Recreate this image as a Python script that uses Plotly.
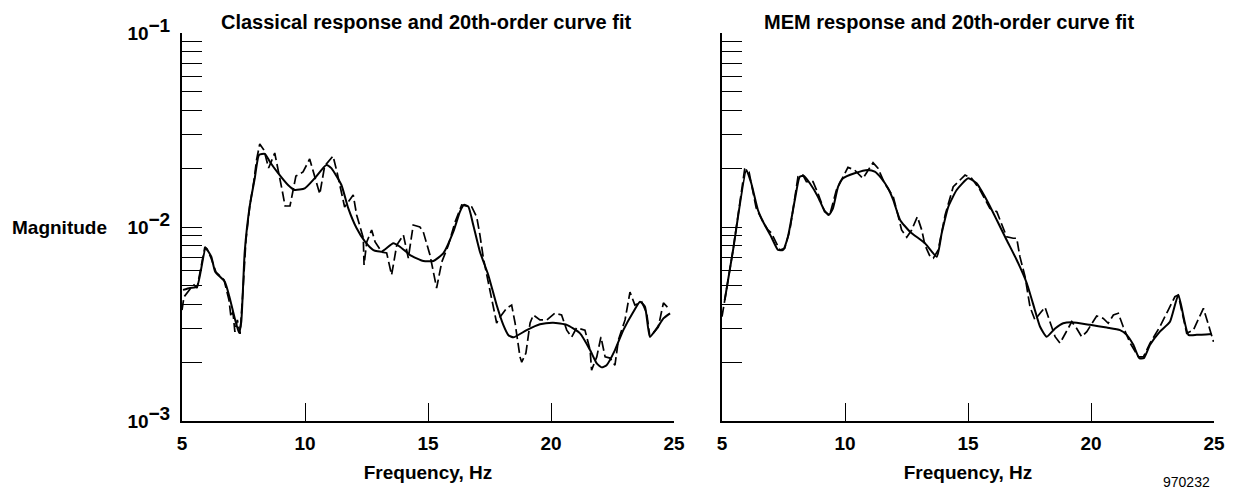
import plotly.graph_objects as go

# ---- Classical response (dashed) and its 20th-order fit (solid) ----
classical_freq = [5.00, 5.08, 5.33, 5.49, 5.61, 5.93, 6.02, 6.18, 6.38, 6.71, 6.91, 6.99, 7.07,
                  7.15, 7.25, 7.36, 7.48, 7.60, 7.76, 7.93, 8.03, 8.16, 8.33, 8.52, 8.77, 8.90,
                  9.07, 9.19, 9.39, 9.63, 9.92, 10.19, 10.37, 10.60, 10.80, 11.14, 11.30, 11.61,
                  11.96, 12.10, 12.37, 12.40, 12.51, 12.71, 12.85, 13.12, 13.32, 13.52, 13.73,
                  14.00, 14.20, 14.40, 14.67, 14.81, 15.08, 15.35, 15.56, 15.83, 16.10, 16.37,
                  16.78, 16.98, 17.11, 17.25, 17.39, 17.59, 17.79, 17.93, 18.20, 18.40, 18.54,
                  18.74, 18.81, 18.98, 19.15, 19.28, 19.55, 19.83, 20.16, 20.43, 20.64, 20.84,
                  21.04, 21.38, 21.59, 21.65, 21.86, 22.03, 22.20, 22.40, 22.60, 22.74, 23.01,
                  23.21, 23.41, 23.69, 23.89, 24.02, 24.36, 24.57, 24.77]
classical_mag = [0.00373, 0.00436, 0.00479, 0.00502, 0.00485, 0.00789, 0.00770, 0.00692, 0.00586,
                 0.00533, 0.00420, 0.00344, 0.00365, 0.00288, 0.00332, 0.00281, 0.00474, 0.00857,
                 0.01299, 0.01747, 0.02215, 0.02679, 0.02494, 0.02014, 0.02406, 0.02014, 0.01551,
                 0.01283, 0.01283, 0.01832, 0.01921, 0.02241, 0.01853, 0.01479, 0.02062, 0.02323,
                 0.01921, 0.01268, 0.01462, 0.01153, 0.00878, 0.00637, 0.00837, 0.00965, 0.00837,
                 0.00743, 0.00735, 0.00566, 0.00807, 0.00910, 0.00692, 0.01024, 0.01000, 0.00942,
                 0.00717, 0.00485, 0.00660, 0.00807, 0.01061, 0.01299, 0.01268, 0.01126, 0.00910,
                 0.00692, 0.00566, 0.00431, 0.00320, 0.00344, 0.00382, 0.00396, 0.00320, 0.00214,
                 0.00201, 0.00224, 0.00320, 0.00352, 0.00332, 0.00332, 0.00360, 0.00352, 0.00294,
                 0.00271, 0.00302, 0.00294, 0.00232, 0.00183, 0.00214, 0.00271, 0.00214, 0.00211,
                 0.00194, 0.00262, 0.00332, 0.00462, 0.00396, 0.00411, 0.00360, 0.00271, 0.00305,
                 0.00406, 0.00382]

classical_fit_freq = [5.04, 5.33, 5.61, 5.96, 6.19, 6.35, 6.74, 6.94, 7.14, 7.32, 7.41, 7.55, 7.75,
                      7.96, 8.13, 8.37, 8.57, 8.90, 9.31, 9.58, 9.99, 10.39, 10.87, 11.07, 11.48,
                      11.76, 12.10, 12.44, 12.78, 13.12, 13.59, 13.86, 14.27, 14.81, 15.22, 15.62,
                      16.03, 16.30, 16.46, 16.64, 16.84, 17.11, 17.45, 17.79, 18.06, 18.27, 18.47,
                      19.01, 19.55, 20.09, 20.64, 21.18, 21.59, 21.86, 22.06, 22.26, 22.60, 22.94,
                      23.35, 23.62, 23.82, 24.02, 24.30, 24.57, 24.84]
classical_fit_mag = [0.00474, 0.00485, 0.00492, 0.00777, 0.00703, 0.00588, 0.00522, 0.00431,
                     0.00340, 0.00284, 0.00325, 0.00746, 0.01273, 0.01790, 0.02350, 0.02380,
                     0.02170, 0.01900, 0.01646, 0.01552, 0.01583, 0.01782, 0.02090, 0.02010,
                     0.01646, 0.01248, 0.00985, 0.00840, 0.00760, 0.00746, 0.00824, 0.00791,
                     0.00717, 0.00668, 0.00668, 0.00731, 0.00946, 0.01200, 0.01300, 0.01273,
                     0.01024, 0.00746, 0.00566, 0.00396, 0.00313, 0.00277, 0.00270, 0.00294,
                     0.00315, 0.00321, 0.00313, 0.00283, 0.00232, 0.00198, 0.00189, 0.00194,
                     0.00232, 0.00294, 0.00366, 0.00412, 0.00388, 0.00272, 0.00300, 0.00338,
                     0.00359]

# ---- MEM response (dashed) and its 20th-order fit (solid) ----
mem_freq = [5.00, 5.11, 5.45, 5.92, 6.10, 6.39, 6.67, 6.87, 7.00, 7.35, 7.55, 7.76, 8.09, 8.29,
            8.43, 8.70, 8.90, 9.17, 9.38, 9.65, 9.92, 10.12, 10.39, 10.73, 11.14, 11.34, 11.61,
            11.96, 12.17, 12.30, 12.51, 12.71, 12.94, 13.12, 13.25, 13.46, 13.59, 13.79, 14.07,
            14.40, 14.88, 15.15, 15.49, 15.89, 16.17, 16.57, 16.84, 16.98, 17.11, 17.32, 17.52,
            17.72, 17.93, 18.13, 18.33, 18.54, 18.74, 19.01, 19.22, 19.42, 19.62, 19.83, 20.03,
            20.23, 20.50, 20.70, 20.91, 21.11, 21.31, 21.59, 21.93, 22.13, 22.40, 22.80, 23.14,
            23.41, 23.55, 23.89, 24.16, 24.57, 24.84, 24.98]
mem_mag = [0.00345, 0.00420, 0.00761, 0.01983, 0.01921, 0.01253, 0.01061, 0.00965, 0.00935,
           0.00761, 0.00777, 0.00965, 0.01816, 0.01853, 0.01712, 0.01712, 0.01492, 0.01199,
           0.01153, 0.01551, 0.01816, 0.02030, 0.01967, 0.01782, 0.02145, 0.02008, 0.01680,
           0.01433, 0.01130, 0.00965, 0.00885, 0.00965, 0.01130, 0.00965, 0.00807, 0.00703,
           0.00690, 0.00761, 0.01153, 0.01613, 0.01853, 0.01782, 0.01551, 0.01249, 0.01199,
           0.00891, 0.00875, 0.00875, 0.00703, 0.00554, 0.00388, 0.00332, 0.00359, 0.00386,
           0.00325, 0.00272, 0.00252, 0.00294, 0.00325, 0.00300, 0.00272, 0.00289, 0.00319,
           0.00348, 0.00338, 0.00319, 0.00352, 0.00359, 0.00306, 0.00252, 0.00214, 0.00214,
           0.00252, 0.00306, 0.00373, 0.00437, 0.00446, 0.00283, 0.00294, 0.00381, 0.00294,
           0.00256]

mem_fit_freq = [5.11, 5.45, 5.99, 6.19, 6.46, 6.67, 7.00, 7.28, 7.48, 7.68, 7.96, 8.16, 8.33,
                8.57, 8.90, 9.15, 9.34, 9.51, 9.72, 9.92, 10.39, 10.93, 11.21, 11.48, 11.75,
                11.96, 12.24, 12.64, 13.25, 13.73, 13.93, 14.20, 14.54, 15.01, 15.35, 15.76,
                16.17, 16.57, 16.98, 17.39, 17.72, 17.93, 18.20, 18.54, 18.87, 19.22, 19.96,
                20.64, 21.18, 21.45, 21.72, 21.96, 22.15, 22.40, 22.80, 23.21, 23.55, 23.96,
                24.30, 24.91]
mem_fit_mag = [0.00420, 0.00761, 0.01967, 0.01680, 0.01224, 0.01065, 0.00891, 0.00761, 0.00761,
               0.00891, 0.01378, 0.01816, 0.01832, 0.01680, 0.01433, 0.01224, 0.01153, 0.01249,
               0.01613, 0.01782, 0.01891, 0.01967, 0.01928, 0.01782, 0.01583, 0.01378, 0.01087,
               0.00946, 0.00824, 0.00703, 0.00928, 0.01272, 0.01551, 0.01782, 0.01680, 0.01378,
               0.01087, 0.00857, 0.00676, 0.00513, 0.00373, 0.00306, 0.00272, 0.00300, 0.00319,
               0.00323, 0.00313, 0.00303, 0.00294, 0.00278, 0.00247, 0.00211, 0.00211, 0.00247,
               0.00289, 0.00325, 0.00446, 0.00278, 0.00278, 0.00281]

panel_titles = ["Classical response and 20th-order curve fit",
                "MEM response and 20th-order curve fit"]
x_ticks = [5, 10, 15, 20, 25]
decades = [-3, -2, -1]

FONT = "Liberation Sans, Arial, Helvetica, sans-serif"
BLACK = "#000000"
SIZE = 19

# log-axis ticks: every 1..9 multiple inside each decade, labels only on powers of ten
y_tickvals, y_ticktext = [], []
for e in decades:
    for k in range(1, 10):
        if e == decades[-1] and k > 1:
            break
        y_tickvals.append(k * 10.0 ** e)
        if k == 1:
            y_ticktext.append(
                f"10<sup><span style='font-size:{SIZE}px'>\u2212{abs(e)}</span></sup>")
        else:
            y_ticktext.append("")

fig = go.Figure()

dash_style = dict(color=BLACK, width=1.7, dash="10px,4px")
fit_style = dict(color=BLACK, width=2, shape="spline", smoothing=0.5)

fig.add_trace(go.Scatter(x=classical_freq, y=classical_mag, mode="lines",
                         line=dash_style, xaxis="x", yaxis="y"))
fig.add_trace(go.Scatter(x=classical_fit_freq, y=classical_fit_mag, mode="lines",
                         line=fit_style, xaxis="x", yaxis="y"))
fig.add_trace(go.Scatter(x=mem_freq, y=mem_mag, mode="lines",
                         line=dash_style, xaxis="x2", yaxis="y2"))
fig.add_trace(go.Scatter(x=mem_fit_freq, y=mem_fit_mag, mode="lines",
                         line=fit_style, xaxis="x2", yaxis="y2"))

W, H = 1233, 491
left_dom = [182 / W, 674 / W]
right_dom = [722 / W, 1214 / W]
y_dom = [(H - 421) / H, (H - 33) / H]

tick_font = dict(family=FONT, size=SIZE, color=BLACK, weight="bold")
title_font = dict(family=FONT, size=20, color=BLACK, weight="bold")

def x_axis(domain, anchor):
    return dict(domain=domain, anchor=anchor, range=[5, 25], tickvals=x_ticks,
                ticks="inside", ticklen=18, tickwidth=1, tickcolor=BLACK,
                showline=True, linewidth=2, linecolor=BLACK, mirror=False,
                showgrid=False, zeroline=False, tickfont=tick_font,
                ticklabelstandoff=4, automargin=False,
                title=dict(text="Frequency, Hz", font=tick_font, standoff=13))

def y_axis(anchor, labels):
    return dict(domain=y_dom, anchor=anchor, type="log", range=[-3, -1],
                tickvals=y_tickvals, ticktext=y_ticktext, showticklabels=labels,
                ticks="inside", ticklen=20, tickwidth=1, tickcolor=BLACK,
                showline=True, linewidth=2, linecolor=BLACK, mirror=False,
                showgrid=False, zeroline=False, tickfont=tick_font,
                ticklabelstandoff=6, automargin=False)

fig.update_layout(
    width=W, height=H,
    margin=dict(l=0, r=0, t=0, b=0, autoexpand=False),
    paper_bgcolor="white", plot_bgcolor="white",
    showlegend=False,
    font=dict(family=FONT, color=BLACK),
    xaxis=x_axis(left_dom, "y"),
    yaxis=y_axis("x", True),
    xaxis2=x_axis(right_dom, "y2"),
    yaxis2=y_axis("x2", False),
    annotations=[
        dict(text=panel_titles[0], x=219 / W, y=(H - 22) / H, xref="paper", yref="paper",
             xanchor="left", yanchor="middle", showarrow=False, font=title_font),
        dict(text=panel_titles[1], x=762 / W, y=(H - 22) / H, xref="paper", yref="paper",
             xanchor="left", yanchor="middle", showarrow=False, font=title_font),
        dict(text="Magnitude", x=10 / W, y=(H - 227) / H, xref="paper", yref="paper",
             xanchor="left", yanchor="middle", showarrow=False, font=tick_font),
        dict(text="970232", x=1212 / W, y=(H - 482) / H, xref="paper", yref="paper",
             xanchor="right", yanchor="middle", showarrow=False,
             font=dict(family=FONT, size=14, color=BLACK)),
    ],
)

fig.write_html("out.html")
